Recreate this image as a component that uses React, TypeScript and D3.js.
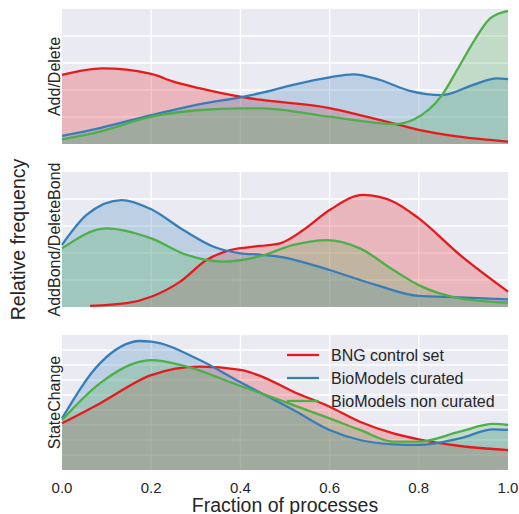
import { useEffect, useRef } from "react";
import * as d3 from "d3";

// x ticks and panel names
const X_TICKS = [0, 0.2, 0.4, 0.6, 0.8, 1.0];
const PANEL_LABELS = ["Add/Delete", "AddBond/DeleteBond", "StateChange"];
// y extent of each panel in gridline steps
const PANEL_YMAX = [5, 5, 9];

const SERIES = [
  { label: "BNG control set", color: "#e41a1c" },
  { label: "BioModels curated", color: "#377eb8" },
  { label: "BioModels non curated", color: "#4daf4a" },
];

// Add/Delete
const ADD_BNG: [number, number][] = [
  [0, 2.56], [0.09, 2.8], [0.2, 2.6], [0.25, 2.31], [0.31, 2.06], [0.4, 1.75],
  [0.444, 1.64], [0.6, 1.33], [0.668, 1.07], [0.758, 0.7], [0.8, 0.52],
  [0.89, 0.27], [1.0, 0.09],
];
const ADD_CURATED: [number, number][] = [
  [0, 0.3], [0.085, 0.59], [0.2, 1.07], [0.31, 1.48], [0.4, 1.73], [0.444, 1.88],
  [0.518, 2.19], [0.6, 2.47], [0.653, 2.58], [0.713, 2.37], [0.78, 1.97],
  [0.852, 1.81], [0.922, 2.19], [0.975, 2.43], [1.0, 2.4],
];
const ADD_NONCURATED: [number, number][] = [
  [0, 0.17], [0.085, 0.46], [0.2, 1.01], [0.31, 1.26], [0.4, 1.32], [0.444, 1.32],
  [0.6, 1.01], [0.668, 0.86], [0.745, 0.74], [0.79, 0.92], [0.852, 1.81],
  [0.89, 2.86], [0.925, 3.85], [0.96, 4.65], [1.0, 4.93],
];

// AddBond/DeleteBond
const BOND_BNG: [number, number][] = [
  [0.063, 0.04], [0.145, 0.14], [0.2, 0.38], [0.265, 0.94], [0.324, 1.74],
  [0.377, 2.11], [0.444, 2.26], [0.489, 2.36], [0.541, 2.85], [0.6, 3.59],
  [0.675, 4.15], [0.743, 3.9], [0.8, 3.28], [0.892, 1.93], [1.0, 0.57],
];
const BOND_CURATED: [number, number][] = [
  [0, 2.3], [0.055, 3.41], [0.134, 3.96], [0.2, 3.62], [0.272, 2.85], [0.34, 2.23],
  [0.4, 1.99], [0.444, 1.94], [0.489, 1.86], [0.6, 1.37], [0.705, 0.81],
  [0.8, 0.41], [0.892, 0.36], [1.0, 0.28],
];
const BOND_NONCURATED: [number, number][] = [
  [0, 2.17], [0.1, 2.91], [0.2, 2.54], [0.28, 1.93], [0.361, 1.68], [0.444, 1.88],
  [0.519, 2.3], [0.593, 2.48], [0.668, 2.17], [0.743, 1.37], [0.8, 0.81],
  [0.892, 0.32], [1.0, 0.16],
];

// StateChange
const STATE_BNG: [number, number][] = [
  [0, 3.11], [0.085, 4.44], [0.2, 6.33], [0.309, 6.89], [0.4, 6.67], [0.444, 6.28],
  [0.519, 5.22], [0.6, 4.22], [0.668, 3.22], [0.743, 2.44], [0.8, 2.04],
  [0.892, 1.6], [1.0, 1.33],
];
const STATE_CURATED: [number, number][] = [
  [0, 3.44], [0.085, 7.11], [0.175, 8.6], [0.2, 8.56], [0.309, 7.33], [0.4, 5.85],
  [0.444, 5.17], [0.519, 4.0], [0.6, 2.67], [0.668, 2.0], [0.743, 1.71],
  [0.8, 1.67], [0.892, 2.11], [0.967, 2.71], [1.0, 2.67],
];
const STATE_NONCURATED: [number, number][] = [
  [0, 3.33], [0.085, 5.78], [0.2, 7.33], [0.28, 6.89], [0.4, 5.6], [0.444, 5.14],
  [0.519, 4.33], [0.6, 3.44], [0.668, 2.67], [0.743, 1.89], [0.8, 1.89],
  [0.892, 2.56], [0.967, 3.07], [1.0, 3.0],
];

const CURVES = [
  [ADD_BNG, ADD_CURATED, ADD_NONCURATED],
  [BOND_BNG, BOND_CURATED, BOND_NONCURATED],
  [STATE_BNG, STATE_CURATED, STATE_NONCURATED],
];

const FONT = "'Liberation Sans', Arial, sans-serif";
const TEXT = "#262626";

export default function App() {
  const svgRef = useRef<SVGSVGElement | null>(null);

  useEffect(() => {
    if (!svgRef.current) return;
    const W = 519;
    const H = 514;
    const left = 62, right = 508;
    const tops = [9, 172, 335];
    const pH = 135;

    const svg = d3.select(svgRef.current);
    svg.selectAll("*").remove();
    svg.attr("width", W).attr("height", H);

    const x = d3.scaleLinear().domain([0, 1]).range([left, right]);

    tops.forEach((top, pi) => {
      const y = d3.scaleLinear().domain([0, PANEL_YMAX[pi]]).range([top + pH, top]);
      const g = svg.append("g");

      g.append("rect")
        .attr("x", left).attr("y", top)
        .attr("width", right - left).attr("height", pH)
        .attr("fill", "#eaeaf2");

      // Grid
      g.selectAll(".hg").data(d3.range(1, PANEL_YMAX[pi])).join("line")
        .attr("x1", left).attr("x2", right)
        .attr("y1", (d) => y(d)).attr("y2", (d) => y(d))
        .attr("stroke", "#fff").attr("stroke-width", 1.3);
      g.selectAll(".vg").data(X_TICKS.slice(1, -1)).join("line")
        .attr("x1", (d) => x(d)).attr("x2", (d) => x(d))
        .attr("y1", top).attr("y2", top + pH)
        .attr("stroke", "#fff").attr("stroke-width", 1.3);

      const area = d3.area<[number, number]>()
        .x((d) => x(d[0])).y0(y(0)).y1((d) => y(d[1]))
        .curve(d3.curveMonotoneX);
      const line = d3.line<[number, number]>()
        .x((d) => x(d[0])).y((d) => y(d[1]))
        .curve(d3.curveMonotoneX);

      // fills first, lines on top
      CURVES[pi].forEach((data, si) => {
        g.append("path").datum(data).attr("d", area)
          .attr("fill", SERIES[si].color).attr("fill-opacity", 0.25);
      });
      CURVES[pi].forEach((data, si) => {
        g.append("path").datum(data).attr("d", line)
          .attr("fill", "none").attr("stroke", SERIES[si].color)
          .attr("stroke-width", 2.3).attr("stroke-linejoin", "round");
      });

      // Panel label
      svg.append("text")
        .attr("transform", `translate(60,${top + pH / 2}) rotate(-90)`)
        .attr("text-anchor", "middle")
        .attr("font-family", FONT).attr("font-size", 16).attr("fill", TEXT)
        .text(PANEL_LABELS[pi]);
    });

    // X tick labels
    svg.selectAll(".xt").data(X_TICKS).join("text")
      .attr("x", (d) => x(d)).attr("y", 493)
      .attr("text-anchor", "middle")
      .attr("font-family", FONT).attr("font-size", 15).attr("fill", TEXT)
      .text((d) => d.toFixed(1));

    // Axis labels
    svg.append("text")
      .attr("x", (left + right) / 2).attr("y", 512)
      .attr("text-anchor", "middle")
      .attr("font-family", FONT).attr("font-size", 19.5).attr("fill", TEXT)
      .text("Fraction of processes");
    svg.append("text")
      .attr("transform", `translate(25,${(tops[0] + tops[2] + pH) / 2}) rotate(-90)`)
      .attr("text-anchor", "middle")
      .attr("font-family", FONT).attr("font-size", 19.5).attr("fill", TEXT)
      .text("Relative frequency");

    // Legend
    const lg = svg.append("g");
    SERIES.forEach((s, i) => {
      const ly = 355 + i * 23;
      lg.append("line")
        .attr("x1", 287).attr("x2", 319).attr("y1", ly).attr("y2", ly)
        .attr("stroke", s.color).attr("stroke-width", 2.3);
      lg.append("text")
        .attr("x", 331).attr("y", ly + 5.5)
        .attr("font-family", FONT).attr("font-size", 16).attr("fill", TEXT)
        .text(s.label);
    });
  }, []);

  return (
    <svg ref={svgRef} style={{ position: "absolute", left: 0, top: 0, display: "block" }} />
  );
}
